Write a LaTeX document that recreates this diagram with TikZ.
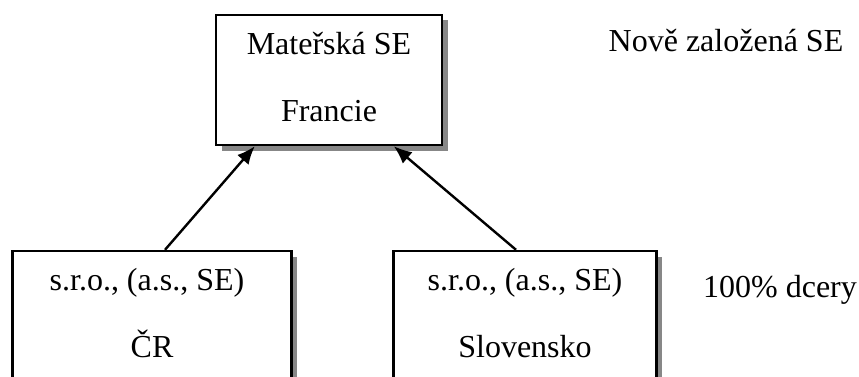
\documentclass[tikz,border=0pt]{standalone}
\usepackage{fontspec}
\setmainfont{Liberation Serif}
\usetikzlibrary{arrows.meta,shadows}
\begin{document}
\begin{tikzpicture}[x=1pt,y=1pt,
  every node/.style={font=\fontsize{32}{38}\selectfont},
  boxshape/.style={draw, line width=2.4pt, fill=white, inner sep=0pt,
    drop shadow={shadow xshift=5.5pt, shadow yshift=-5.5pt, fill=black!47, opacity=1}},
  txt/.style={anchor=base, inner sep=0pt},
  conn/.style={line width=2.4pt, -{Latex[length=18pt,width=15pt]}}
]
\clip (0,0) rectangle (859,-377);
\useasboundingbox (0,0) rectangle (859,-377);
% boxes
\node[boxshape, minimum width=226pt, minimum height=130pt] (top) at (329,-80) {};
\node[boxshape, minimum width=279pt, minimum height=160pt] (cr) at (152,-331) {};
\node[boxshape, minimum width=263pt, minimum height=160pt] (sk) at (525,-331) {};
% texts
\node[txt] (t1) at (329,-55) {Mateřská SE};
\node[txt] (t2) at (329,-122) {Francie};
\node[txt] (c1) at (147,-290) {s.r.o., (a.s., SE)};
\node[txt] (c2) at (152,-357) {ČR};
\node[txt] (s1) at (525,-290) {s.r.o., (a.s., SE)};
\node[txt] (s2) at (525,-357) {Slovensko};
\node[txt] (nz) at (726,-52) {Nově založená SE};
\node[txt] (dc) at (780,-297) {100\% dcery};
% connectors
\draw[conn] ([xshift=13pt]cr.north) -- ([xshift=40pt]top.south west);
\draw[conn] ([xshift=-9pt]sk.north) -- ([xshift=179pt]top.south west);
\end{tikzpicture}
\end{document}
